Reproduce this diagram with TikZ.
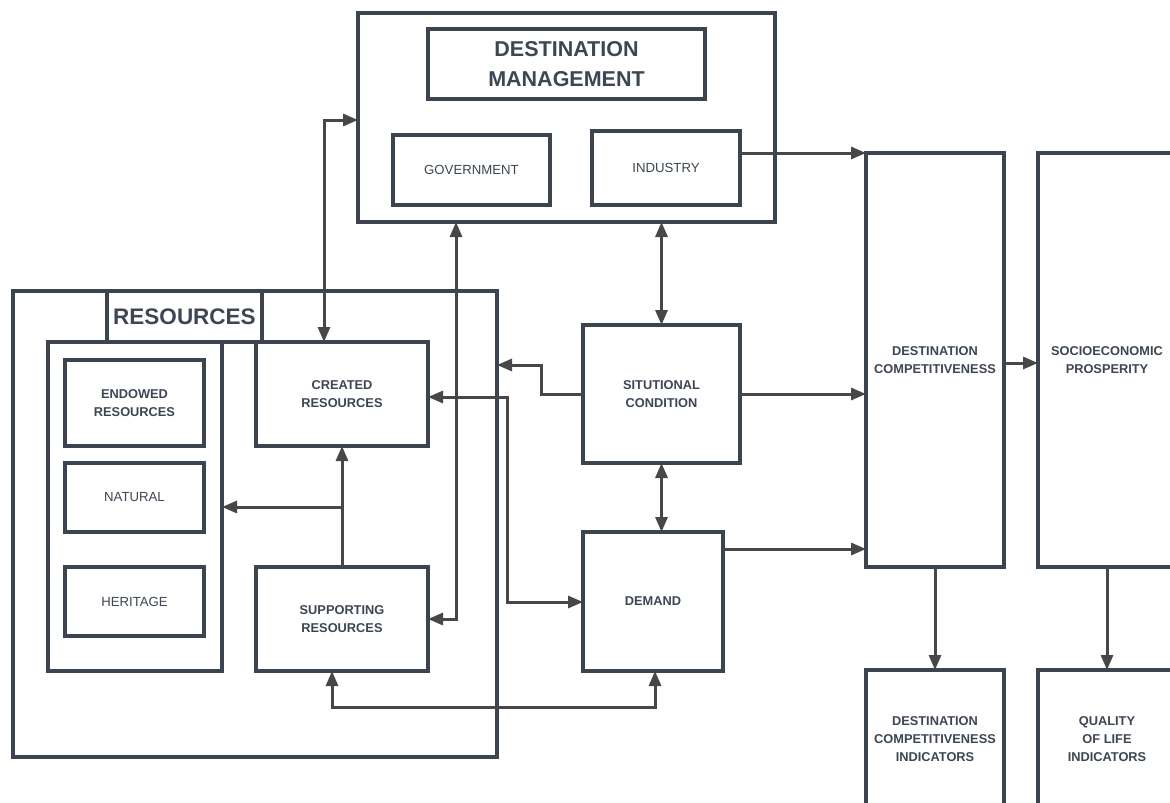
\documentclass[tikz,border=0pt]{standalone}
\usepackage{fontspec}
\setmainfont{Liberation Sans}
\usetikzlibrary{arrows.meta,shadows}
\definecolor{textc}{HTML}{3D4652}
\definecolor{linec}{HTML}{3B444F}
\definecolor{arrc}{HTML}{474747}
\tikzset{
  box/.style={draw=linec, line width=3.4pt, fill=white, inner sep=0pt, outer sep=0pt,
    text=textc, align=center, drop shadow={opacity=0.12, shadow xshift=1.5pt, shadow yshift=-2pt}},
  bl/.style={font=\bfseries\fontsize{12.8}{18}\selectfont},
  rl/.style={font=\fontsize{13.2}{18}\selectfont},
  conn/.style={draw=arrc, line width=3pt},
  tip/.style={-{Triangle[length=15pt,width=12pt]}},
  bitip/.style={{Triangle[length=15pt,width=12pt]}-{Triangle[length=15pt,width=12pt]}},
}
\begin{document}
\begin{tikzpicture}[x=1pt,y=-1pt]
\useasboundingbox (0,0) rectangle (1170,803);
% Destination management
\node[box, minimum width=417pt, minimum height=209pt] (dm) at (566.5,117.5) {};
\node[box, minimum width=277pt, minimum height=70pt, font=\bfseries\fontsize{21.5}{30}\selectfont] (dmt) at (566.5,64) {DESTINATION\\MANAGEMENT};
\node[box, rl, minimum width=157pt, minimum height=70pt] (gov) at (471.5,170) {GOVERNMENT};
\node[box, rl, minimum width=148pt, minimum height=74pt] (ind) at (666,168) {INDUSTRY};
% Resources
\node[box, minimum width=484pt, minimum height=466pt] (res) at (255,524) {};
\node[box, minimum width=155pt, minimum height=51pt, font=\bfseries\fontsize{22.5}{26}\selectfont] (rest) at (184.5,316.5) {RESOURCES};
\node[box, minimum width=174pt, minimum height=329pt] (endg) at (135,506.5) {};
\node[box, bl, minimum width=139pt, minimum height=86pt] (endw) at (134.5,403) {ENDOWED\\RESOURCES};
\node[box, rl, minimum width=139pt, minimum height=69pt] (nat) at (134.5,497.5) {NATURAL};
\node[box, rl, minimum width=139pt, minimum height=69pt] (her) at (134.5,601.5) {HERITAGE};
\node[box, bl, minimum width=172pt, minimum height=104pt] (cre) at (342,394) {CREATED\\RESOURCES};
\node[box, bl, minimum width=172pt, minimum height=104pt] (sup) at (342,619) {SUPPORTING\\RESOURCES};
% Middle
\node[box, bl, minimum width=157pt, minimum height=138pt] (sit) at (661.5,394) {SITUTIONAL\\CONDITION};
\node[box, bl, minimum width=140pt, minimum height=139pt] (dem) at (653,601.5) {DEMAND};
% Right
\node[box, bl, minimum width=138pt, minimum height=414pt] (dc) at (935,360) {DESTINATION\\COMPETITIVENESS};
\node[box, bl, minimum width=138pt, minimum height=414pt] (sp) at (1107,360) {SOCIOECONOMIC\\PROSPERITY};
\node[box, bl, minimum width=138pt, minimum height=138pt] (dci) at (935,739) {DESTINATION\\COMPETITIVENESS\\INDICATORS};
\node[box, bl, minimum width=138pt, minimum height=138pt] (qol) at (1107,739) {QUALITY\\OF LIFE\\INDICATORS};
% helper coordinates
\coordinate (c1) at (324,120);
\coordinate (c2) at (342,507);
\coordinate (c3) at (456,619);
\coordinate (c4) at (507,397);
\coordinate (c5) at (507,602);
\coordinate (c6) at (541,365);
\coordinate (c8) at (0,549);
\coordinate (c9) at (0,363);
\coordinate (c10) at (332,707);
\coordinate (c11) at (655,707);
% connectors
\draw[conn, bitip] (dm.west |- c1) -| (cre.north -| c1);
\draw[conn, tip] (sup.north -| c2) -- (cre.south -| c2);
\draw[conn, tip] (c2) -- (endg.east |- c2);
\draw[conn, bitip] (dm.south -| c3) |- (sup.east |- c3);
\draw[conn, bitip] (cre.east |- c4) -- (c4) -- (c5) -- (dem.west |- c5);
\draw[conn, tip] (sit.west) -| (c6) -- (res.east |- c6);
\draw[conn, bitip] (dm.south -| sit.north) -- (sit.north);
\draw[conn, bitip] (sit.south) -- (sit.south |- dem.north);
\draw[conn, tip] (ind.east |- dc.north) -- (dc.north west);
\draw[conn, tip] (sit.east) -- (dc.west |- sit.east);
\draw[conn, tip] (dem.east |- c8) -- (dc.west |- c8);
\draw[conn, tip] (dc.east |- c9) -- (sp.west |- c9);
\draw[conn, tip] (dc.south) -- (dci.north);
\draw[conn, tip] (sp.south) -- (qol.north);
\draw[conn, bitip] (sup.south -| c10) -- (c10) -- (c11) -- (dem.south -| c11);
\end{tikzpicture}
\end{document}
